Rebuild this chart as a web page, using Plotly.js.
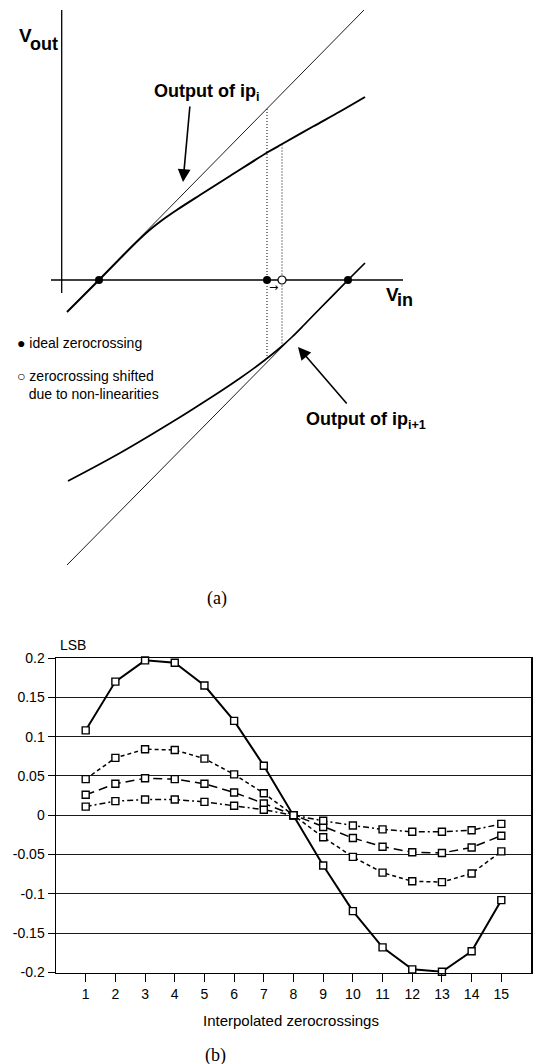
<!DOCTYPE html>
<html>
<head>
<meta charset="utf-8">
<script src="https://cdn.plot.ly/plotly-3.0.1.min.js"></script>
<style>html,body{margin:0;padding:0;background:#fff;}#chart{width:533px;height:1064px;}</style>
</head>
<body>
<div id="chart"></div>
<script>
// ---------- (a) schematic data (Vin / Vout units) ----------
const axisVoutVin = [0.7, 0.7];
const axisVoutVout = [270, -13];
const axisVinVin = [-10, 342];
const axisVinVout = [0, 0];

const idealIpVin = [6, 303];
const idealIpVout = [-32, 270];
const outIpVin = [6, 38, 60, 75, 88, 100, 115, 139, 169, 207, 222, 252, 279, 304];
const outIpVout = [-32, 0, 22.5, 37.5, 49.5, 59, 69.5, 85, 104, 128, 136.5, 153.5, 168.5, 183];

const idealIpNextVin = [6, 304];
const idealIpNextVout = [-285, 17];
const outIpNextVin = [304, 287, 259, 243, 231, 220, 209, 196, 180, 160, 139, 116, 59, 7];
const outIpNextVout = [17, 0, -28.5, -45, -57, -67, -76, -86, -97.5, -111, -124.5, -139, -173, -201];

const dotLeftVin = [206, 206];
const dotLeftVout = [171, -78];
const dotRightVin = [221, 221];
const dotRightVout = [135.5, -66];

const idealZcVin = [38, 206, 287];
const idealZcVout = [0, 0, 0];
const shiftedZcVin = [221];
const shiftedZcVout = [0];

// ---------- (b) chart data ----------
const zerocrossings = [1,2,3,4,5,6,7,8,9,10,11,12,13,14,15];
const errSolid = [0.108,0.170,0.197,0.194,0.165,0.120,0.063,0,-0.064,-0.122,-0.168,-0.196,-0.199,-0.173,-0.108];
const errShortDash = [0.046,0.073,0.084,0.083,0.072,0.052,0.028,0,-0.028,-0.053,-0.073,-0.084,-0.085,-0.074,-0.046];
const errLongDash = [0.026,0.040,0.047,0.046,0.040,0.029,0.015,0,-0.015,-0.029,-0.040,-0.047,-0.048,-0.041,-0.026];
const errDashDot = [0.011,0.018,0.020,0.020,0.017,0.012,0.007,0,-0.007,-0.013,-0.018,-0.021,-0.021,-0.019,-0.011];
const yTickVals = [0.2,0.15,0.1,0.05,0,-0.05,-0.1,-0.15,-0.2];
const yTickText = ['0.2','0.15','0.1','0.05','0','-0.05','-0.1','-0.15','-0.2'];
const xTickText = ['1','2','3','4','5','6','7','8','9','10','11','12','13','14','15'];

// ---------- layout helpers ----------
const W = 533, H = 1064;
const PX = x => x / W;
const PY = y => 1 - y / H;
const sans = 'Liberation Sans, Arial, Helvetica, sans-serif';
const narrow = 'Liberation Sans Narrow, Arial Narrow, Liberation Sans, Arial, sans-serif';
const serif = 'Liberation Serif, Times New Roman, serif';

const s2 = {xaxis: 'x2', yaxis: 'y2', hoverinfo: 'skip', showlegend: false};
const traces = [
  Object.assign({x: axisVoutVin, y: axisVoutVout, mode: 'lines', line: {color: '#000', width: 1.3}}, s2),
  Object.assign({x: axisVinVin, y: axisVinVout, mode: 'lines', line: {color: '#000', width: 1.3}}, s2),
  Object.assign({x: idealIpVin, y: idealIpVout, mode: 'lines', line: {color: '#000', width: 0.9}}, s2),
  Object.assign({x: outIpVin, y: outIpVout, mode: 'lines', line: {color: '#000', width: 2, shape: 'spline', smoothing: 1}}, s2),
  Object.assign({x: idealIpNextVin, y: idealIpNextVout, mode: 'lines', line: {color: '#000', width: 0.9}}, s2),
  Object.assign({x: outIpNextVin, y: outIpNextVout, mode: 'lines', line: {color: '#000', width: 1.7, shape: 'spline', smoothing: 1}}, s2),
  Object.assign({x: dotLeftVin, y: dotLeftVout, mode: 'lines', line: {color: '#000', width: 1, dash: '1px,2px'}}, s2),
  Object.assign({x: dotRightVin, y: dotRightVout, mode: 'lines', line: {color: '#000', width: 1, dash: '1px,2px'}}, s2),
  Object.assign({x: idealZcVin, y: idealZcVout, mode: 'markers', marker: {color: '#000', size: 8, symbol: 'circle'}}, s2),
  Object.assign({x: shiftedZcVin, y: shiftedZcVout, mode: 'markers', marker: {color: '#fff', size: 8, symbol: 'circle', line: {color: '#000', width: 1.2}}}, s2)
];

const mk = {symbol: 'square', color: '#fff', size: 7, line: {color: '#000', width: 1.4}};
[
  [errSolid, {color: '#000', width: 2}],
  [errShortDash, {color: '#000', width: 1.5, dash: '4px,3px'}],
  [errLongDash, {color: '#000', width: 1.5, dash: '9px,5px'}],
  [errDashDot, {color: '#000', width: 1.5, dash: '6px,3px,2px,3px'}]
].forEach(([ys, ln]) => traces.push({
  x: zerocrossings, y: ys, mode: 'lines+markers', line: ln, marker: mk,
  xaxis: 'x', yaxis: 'y', showlegend: false, hoverinfo: 'skip', cliponaxis: false
}));

const ann = [];
function ap(text, x, y, opts) {
  ann.push(Object.assign({text: text, x: PX(x), y: PY(y), xref: 'paper', yref: 'paper', showarrow: false}, opts));
}
const bold18 = {family: narrow, size: 18, color: '#000', weight: 'bold'};
ap('V', 17, 35, {xanchor: 'left', yanchor: 'middle', font: {family: sans, size: 19, color: '#000', weight: 'bold'}});
ap('out', 28, 44, {xanchor: 'left', yanchor: 'middle', font: {family: narrow, size: 18, color: '#000', weight: 'bold'}});
ap('V', 384, 295, {xanchor: 'left', yanchor: 'middle', font: {family: sans, size: 19, color: '#000', weight: 'bold'}});
ap('in', 395, 300, {xanchor: 'left', yanchor: 'middle', font: {family: narrow, size: 18, color: '#000', weight: 'bold'}});
ap('Output of ip<sub>i</sub>', 152, 93, {xanchor: 'left', yanchor: 'middle', font: bold18});
ap('Output of ip<sub>i+1</sub>', 304, 420, {xanchor: 'left', yanchor: 'middle', font: bold18});
ap('\u25CF ideal zerocrossing', 15, 343, {xanchor: 'left', yanchor: 'middle', font: {family: sans, size: 14, color: '#000'}});
ap('\u25CB zerocrossing shifted<br>   due to non-linearities', 15, 385, {xanchor: 'left', yanchor: 'middle', align: 'left', font: {family: sans, size: 14, color: '#000'}});
ap('\u2192', 273, 287, {xanchor: 'center', yanchor: 'middle', font: {family: 'DejaVu Sans, sans-serif', size: 11, color: '#000'}});
ap('(a)', 217, 598, {xanchor: 'center', yanchor: 'middle', font: {family: serif, size: 18, color: '#000'}});
ap('(b)', 215, 1055, {xanchor: 'center', yanchor: 'middle', font: {family: serif, size: 18, color: '#000'}});
ap('LSB', 58, 645, {xanchor: 'left', yanchor: 'middle', font: {family: sans, size: 14, color: '#000'}});
ap('Interpolated zerocrossings', 291, 1020, {xanchor: 'center', yanchor: 'middle', font: {family: sans, size: 15, color: '#000'}});

// arrows
ann.push({x: 122, y: 98, ax: 129, ay: 175, xref: 'x2', yref: 'y2', axref: 'x2', ayref: 'y2', text: '', showarrow: true, arrowhead: 2, arrowsize: 1.6, arrowwidth: 1.6, arrowcolor: '#000'});
ann.push({x: 237, y: -67, ax: 287, ay: -125, xref: 'x2', yref: 'y2', axref: 'x2', ayref: 'y2', text: '', showarrow: true, arrowhead: 2, arrowsize: 1.6, arrowwidth: 1.6, arrowcolor: '#000'});

const layout = {
  width: W, height: H,
  margin: {l: 0, r: 0, t: 0, b: 0},
  paper_bgcolor: '#fff', plot_bgcolor: '#fff',
  showlegend: false,
  annotations: ann,
  xaxis: {
    domain: [PX(56), PX(531)], range: [0, 16], autorange: false,
    tickvals: zerocrossings, ticktext: xTickText,
    ticks: 'outside', ticklen: 8, tickwidth: 1, tickcolor: '#000',
    showgrid: false, zeroline: false,
    showline: true, linecolor: '#000', linewidth: 1.5, mirror: true,
    tickfont: {family: sans, size: 14, color: '#000'}, fixedrange: true
  },
  yaxis: {
    domain: [PY(972.5), PY(658)], range: [-0.2, 0.2], autorange: false,
    tickvals: yTickVals, ticktext: yTickText,
    ticks: 'outside', ticklen: 7, tickwidth: 1, tickcolor: '#000',
    showgrid: true, gridcolor: '#1a1a1a', gridwidth: 1, zeroline: false,
    showline: true, linecolor: '#000', linewidth: 1.5, mirror: true,
    tickfont: {family: sans, size: 14, color: '#000'}, fixedrange: true
  },
  xaxis2: {
    domain: [0, 1], range: [-61, 472], autorange: false, anchor: 'y2',
    visible: false, fixedrange: true
  },
  yaxis2: {
    domain: [PY(620), 1], range: [-340, 280], autorange: false, anchor: 'x2',
    visible: false, fixedrange: true
  }
};

Plotly.newPlot('chart', traces, layout, {displayModeBar: false, staticPlot: true});
</script>
</body>
</html>
